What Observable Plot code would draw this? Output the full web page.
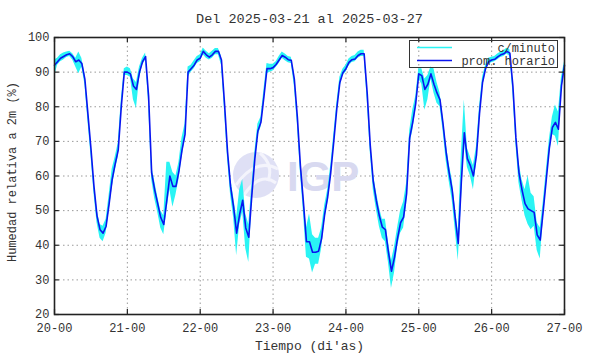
<!DOCTYPE html>
<html>
<head>
<meta charset="utf-8">
<script src="https://cdn.jsdelivr.net/npm/d3@7"></script>
<script src="https://cdn.jsdelivr.net/npm/@observablehq/plot@0.6"></script>
<style>
  html, body { margin: 0; padding: 0; background: #fff; }
  #chart { width: 590px; height: 354px; }
</style>
</head>
<body>
<div id="chart"></div>
<script>
// ---- Data ----
const titleText = "Del 2025-03-21 al 2025-03-27";
const yLabel = "Humedad relativa a 2m (%)";
const xLabel = "Tiempo (di'as)";
const seriesNames = ["c/minuto", "prom. horario"];
const days = [20, 21, 22, 23, 24, 25, 26, 27];
const xTickLabels = ["20-00", "21-00", "22-00", "23-00", "24-00", "25-00", "26-00", "27-00"];
const yTicks = [20, 30, 40, 50, 60, 70, 80, 90, 100];

// hourly average (prom. horario), one value per hour from 20-00 to 27-00
const promHorario = [
  92, 93, 94, 94.5, 95, 95.3, 94.5, 93, 93.5, 92.5, 88, 78, 68, 57, 48.5, 44.5, 43.5, 45.5, 52, 59, 63.5, 67.5, 80, 90,
  90, 89.5, 86, 85, 90, 93, 94.5, 83, 61, 56, 52, 48, 46, 53, 60, 57, 57, 61.5, 67.5, 72, 90, 91, 92, 93.5,
  94, 96, 95, 94.3, 95, 96, 96, 93.5, 81, 67, 57, 51, 43.5, 49, 53, 45, 42.3, 54.4, 65, 73, 75.5, 83, 91, 91,
  91.3, 92.2, 93.5, 94.8, 94.3, 93.6, 93.4, 88, 77, 63, 52.4, 41, 41, 38, 38, 38.3, 42, 49, 54, 61, 70, 79.5, 87, 89.8,
  91, 92.8, 93.6, 93.8, 94.8, 95.3, 95.3, 84, 69, 58.5, 53, 48.5, 45.2, 44.5, 38, 32.5, 36.5, 42, 46.5, 48.1, 55, 71, 75.5, 81,
  89.5, 89, 85, 86.5, 89.5, 86.5, 84, 82, 75, 67, 61, 56, 48, 40.5, 58, 72.5, 65, 63, 60, 66, 78, 87, 91, 93,
  93.5, 93.7, 94.4, 95, 95.3, 96, 95.5, 86, 71, 61, 56, 52, 50.5, 50, 49.5, 43, 41.5, 50, 59, 68, 74, 75.5, 73.5, 86,
  92
];
// per-minute series (c/minuto): lowest and highest reading within each hour
const cMinutoMin = [
  88.5, 92, 93, 93.5, 94.2, 94.5, 93.5, 91.5, 89.5, 91.5, 86.5, 76, 66, 55, 46.5, 42, 41, 43.5, 50, 56.5, 61.5, 65.5, 78, 89,
  89, 88.5, 82, 79.5, 88, 92, 93.5, 81, 59, 53.5, 49.5, 45, 43, 50, 56, 51, 54.5, 59, 65.5, 70.5, 88.5, 90, 91, 92.5,
  93, 95, 94, 93.5, 94, 95, 95, 92, 79, 65, 54.5, 48, 37, 46, 49.5, 39, 35, 51.5, 63, 71.5, 74, 81, 89.5, 90,
  90.3, 91.3, 92.5, 94, 93.3, 92.7, 92.5, 86, 75, 61, 49.5, 36.5, 36, 32, 34.5, 34.5, 39, 47, 52, 59, 68, 77.5, 85.5, 89,
  90, 91.8, 92.8, 93, 94, 94.5, 94.5, 82, 67, 56, 50.5, 45.5, 42, 41, 35, 27.5, 32, 39.5, 43.5, 45, 52, 69, 73, 79,
  88, 86.5, 79, 82, 88, 84, 81, 80, 73, 64.5, 58.5, 53, 44.5, 35.5, 52, 70, 62.5, 60, 56, 64, 76, 85.5, 90, 92.3,
  92.7, 93, 93.6, 94.2, 94.5, 95.2, 94.6, 84, 69, 58, 53, 48.5, 46, 44.5, 45.5, 38.5, 36, 47.5, 57, 66, 72, 71.5, 68.5, 84,
  91
];
const cMinutoMax = [
  93.5, 94, 95, 95.5, 95.8, 96, 95.3, 94, 95.8, 94, 89.5, 80, 70, 59, 50.5, 46, 45.5, 47.5, 54.5, 62, 65.5, 69.5, 82, 91,
  91.5, 91, 88, 87, 91.5, 94, 95.5, 85, 63, 58.5, 54, 50, 48.5, 64, 64, 61, 60, 64, 71, 75, 91.5, 92, 93.3, 94.5,
  95, 97, 96, 95.3, 96, 96.8, 96.8, 94.5, 83, 69, 59.5, 54, 48, 56, 59, 49, 46, 57, 67, 75, 77, 85, 92.5, 92.3,
  92.3, 93, 94.5, 95.8, 95.2, 94.5, 94.3, 89.5, 79, 65.5, 55, 45, 49, 43, 42, 42, 45, 51.5, 56, 63, 72, 81, 88.5, 90.8,
  92, 93.8, 94.5, 94.8, 95.8, 96.3, 96.3, 86, 71, 61, 55.5, 51, 47.5, 47.5, 41, 35.5, 39.5, 45, 50, 52.5, 58, 73, 79, 83,
  91, 91, 88, 89, 91.5, 91, 87, 84, 77, 69.5, 63.5, 59, 51, 44, 66, 82, 68, 65.5, 63, 68.5, 80, 88.5, 92, 94,
  94.3, 94.5, 95.2, 95.8, 96.2, 96.9, 96.5, 88, 73, 64, 59, 56, 60, 55, 54, 46.5, 45, 52.5, 61.5, 70.5, 77, 80.5, 78.5, 88.5,
  93
];

// ---- Table built from the arrays ----
const rows = promHorario.map((v, i) => ({
  t: days[0] + i / 24, v, lo: cMinutoMin[i], hi: cMinutoMax[i]
}));

const FONT = "'Liberation Mono', 'DejaVu Sans Mono', monospace";
const CYAN = "#2af4f4";
const BLUE = "#0a14f0";
const gridStyle = { stroke: "#9a9a9a", strokeOpacity: 1, strokeDasharray: "1.5,3", strokeWidth: 1 };
const yMin = yTicks[0], yMax = yTicks[yTicks.length - 1];
const tickLenY = (yMax - yMin) * 0.018;
const tickLenX = (days[days.length - 1] - days[0]) * 0.0095;

const plot = Plot.plot({
  width: 590,
  height: 354,
  marginLeft: 54,
  marginRight: 26,
  marginTop: 37,
  marginBottom: 40,
  style: { fontFamily: FONT, fontSize: "12px", color: "#333", background: "#fff", overflow: "visible" },
  x: { domain: [days[0], days[days.length - 1]] },
  y: { domain: [yMin, yMax] },
  marks: [
    Plot.gridY(yTicks.slice(1, -1), gridStyle),
    Plot.gridX(days.slice(1, -1), gridStyle),
    Plot.areaY(rows, { x: "t", y1: "lo", y2: "hi", fill: CYAN, curve: "linear" }),
    Plot.line(rows, { x: "t", y: "v", stroke: BLUE, strokeWidth: 1.6 }),
    // inward tick marks on all four sides
    Plot.ruleX(days, { x: d => d, y1: yMin, y2: yMin + tickLenY, stroke: "#222", strokeWidth: 1.2 }),
    Plot.ruleX(days, { x: d => d, y1: yMax - tickLenY, y2: yMax, stroke: "#222", strokeWidth: 1.2 }),
    Plot.ruleY(yTicks, { y: d => d, x1: days[0], x2: days[0] + tickLenX, stroke: "#222", strokeWidth: 1.2 }),
    Plot.ruleY(yTicks, { y: d => d, x1: days[days.length - 1] - tickLenX, x2: days[days.length - 1], stroke: "#222", strokeWidth: 1.2 }),
    Plot.frame({ stroke: "#222", strokeWidth: 1.6 }),
    Plot.axisX(days, { tickSize: 0, tickPadding: 9, label: null, tickFormat: d => xTickLabels[days.indexOf(d)], fill: "#333" }),
    Plot.axisY(yTicks, { tickSize: 0, tickPadding: 5, label: null, fill: "#333" }),
    Plot.text([xLabel], { frameAnchor: "bottom", dy: 35, text: d => d, fill: "#333", fontSize: 13 }),
    Plot.text([yLabel], { frameAnchor: "left", dx: -42, dy: -4, rotate: -90, textAnchor: "middle", text: d => d, fill: "#333", fontSize: 12 }),
    Plot.text([titleText], { frameAnchor: "top", dy: -24, text: d => d, fill: "#333", fontSize: 13.5 })
  ]
});
document.getElementById("chart").appendChild(plot);

// ---- watermark (behind data) and legend (inside the frame) ----
const svg = d3.select(plot);
const wmNode = document.createElementNS("http://www.w3.org/2000/svg", "g");
const areaGroup = plot.querySelector("g[aria-label='area']");
if (areaGroup && areaGroup.parentNode) areaGroup.parentNode.insertBefore(wmNode, areaGroup);
else plot.appendChild(wmNode);
const wm = d3.select(wmNode);
const cx = 256, cy = 175;
wm.append("circle").attr("cx", cx).attr("cy", cy).attr("r", 23).style("fill", "#dfe0f5");
wm.append("path").attr("d", `M${cx - 20},${cy + 10} Q${cx},${cy - 18} ${cx + 22},${cy - 6}`).style("fill", "none").style("stroke", "#f4f4fc").style("stroke-width", "3px");
wm.append("path").attr("d", `M${cx - 12},${cy + 20} Q${cx + 4},${cy - 4} ${cx + 20},${cy + 8}`).style("fill", "none").style("stroke", "#f4f4fc").style("stroke-width", "3px");
wm.append("path").attr("d", `M${cx + 4},${cy - 22} Q${cx + 18},${cy - 10} ${cx + 12},${cy + 6}`).style("fill", "none").style("stroke", "#f4f4fc").style("stroke-width", "3px");
wm.append("text").attr("x", cx + 31).attr("y", cy + 16)
  .style("text-anchor", "start")
  .style("font-family", "'Liberation Sans', Arial, sans-serif")
  .style("font-weight", "bold").style("font-size", "42px").style("fill", "#d8d9f0").style("stroke", "none")
  .text("IGP");

const lg = svg.append("g").attr("font-family", FONT).attr("font-size", 12).attr("fill", "#333");
lg.append("rect").attr("x", 409.5).attr("y", 40.5).attr("width", 148).attr("height", 27)
  .attr("fill", "none").attr("stroke", "#333").attr("stroke-width", 1);
lg.append("line").attr("x1", 417).attr("x2", 452).attr("y1", 47.5).attr("y2", 47.5).attr("stroke", CYAN).attr("stroke-width", 1.5);
lg.append("line").attr("x1", 417).attr("x2", 452).attr("y1", 60.5).attr("y2", 60.5).attr("stroke", BLUE).attr("stroke-width", 1.5);
lg.append("text").attr("x", 555).attr("y", 51.5).attr("text-anchor", "end").text(seriesNames[0]);
lg.append("text").attr("x", 555).attr("y", 64.5).attr("text-anchor", "end").text(seriesNames[1]);
</script>
</body>
</html>
